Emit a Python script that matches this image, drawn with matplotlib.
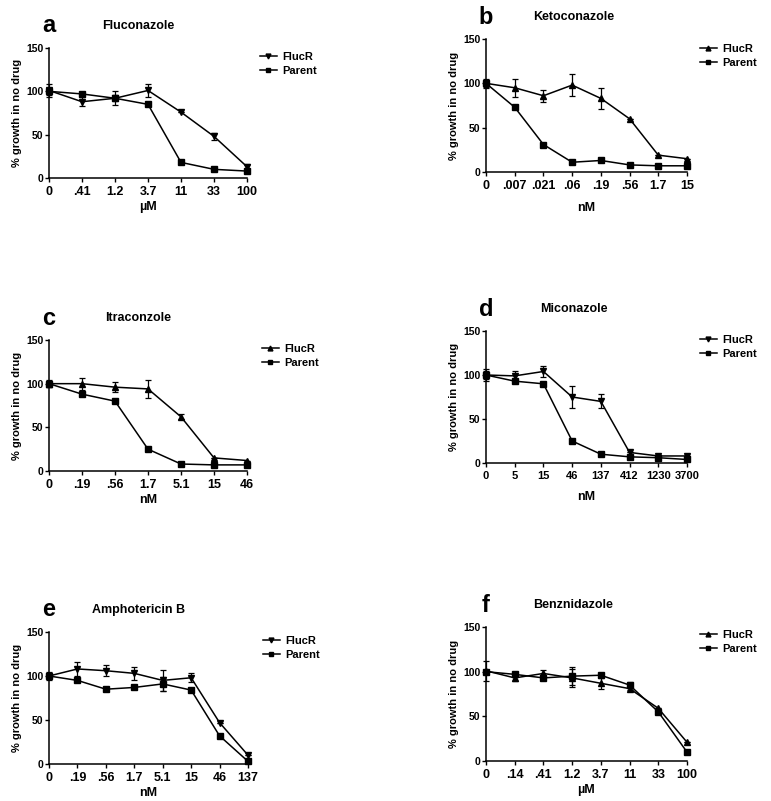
import matplotlib
matplotlib.use("Agg")
import matplotlib.pyplot as plt
from matplotlib.lines import Line2D
import numpy as np

plt.rcParams['font.family'] = ['Liberation Sans', 'DejaVu Sans']
plt.rcParams['font.weight'] = 'bold'

# ---- data ----
flu_ticks = ["0", ".41", "1.2", "3.7", "11", "33", "100"]
flu_flucr = [101, 88, 92, 101, 76, 48, 13]
flu_flucr_err = [7, 5, 8, 8, 0, 4, 3]
flu_parent = [100, 97, 92, 85, 18, 10, 8]
flu_parent_err = [4, 2, 3, 2, 0, 0, 0]

keto_ticks = ["0", ".007", ".021", ".06", ".19", ".56", "1.7", "15"]
keto_flucr = [100, 95, 86, 98, 83, 60, 19, 15]
keto_flucr_err = [5, 10, 7, 12, 12, 0, 0, 0]
keto_parent = [100, 73, 31, 11, 13, 8, 7, 7]
keto_parent_err = [4, 2, 0, 0, 0, 0, 0, 0]

itra_ticks = ["0", ".19", ".56", "1.7", "5.1", "15", "46"]
itra_flucr = [100, 100, 96, 94, 62, 15, 12]
itra_flucr_err = [3, 7, 6, 10, 3, 0, 0]
itra_parent = [100, 88, 80, 25, 8, 7, 7]
itra_parent_err = [4, 0, 0, 0, 0, 0, 0]

mico_ticks = ["0", "5", "15", "46", "137", "412", "1230", "3700"]
mico_flucr = [100, 99, 104, 75, 70, 12, 8, 8]
mico_flucr_err = [7, 5, 6, 13, 8, 0, 0, 0]
mico_parent = [100, 93, 90, 25, 10, 7, 6, 4]
mico_parent_err = [4, 0, 0, 0, 0, 0, 0, 0]

ampho_ticks = ["0", ".19", ".56", "1.7", "5.1", "15", "46", "137"]
ampho_flucr = [100, 108, 106, 103, 95, 98, 47, 10]
ampho_flucr_err = [2, 8, 6, 7, 12, 5, 0, 0]
ampho_parent = [100, 95, 85, 87, 91, 84, 32, 3]
ampho_parent_err = [4, 0, 0, 0, 8, 0, 0, 0]

benz_ticks = ["0", ".14", ".41", "1.2", "3.7", "11", "33", "100"]
benz_flucr = [101, 93, 98, 93, 87, 81, 59, 21]
benz_flucr_err = [11, 3, 4, 10, 6, 2, 0, 0]
benz_parent = [100, 97, 93, 95, 96, 85, 55, 10]
benz_parent_err = [2, 2, 2, 10, 0, 3, 0, 0]

W, H = 771, 801
fig = plt.figure(figsize=(W / 100, H / 100), dpi=100)


def px_axes(left, top, right, bottom):
    return fig.add_axes([left / W, 1 - bottom / H, (right - left) / W, (bottom - top) / H])


def panel(box, letter, title, title_x, ticks, flucr, flucr_err, parent, parent_err,
          flucr_marker, unit, legend_xy, xfs=9, xlpad=2):
    ax = px_axes(*box)
    x = np.arange(len(ticks))
    ax.errorbar(x, flucr, yerr=flucr_err, color='black', marker=flucr_marker,
                ms=5, lw=1.1, capsize=2.3, elinewidth=0.9, capthick=0.9,
                clip_on=False)
    ax.errorbar(x, parent, yerr=parent_err, color='black', marker='s',
                ms=4.5, lw=1.1, capsize=2.3, elinewidth=0.9, capthick=0.9,
                clip_on=False)
    ax.set_xlim(0, len(ticks) - 1)
    ax.set_ylim(0, 150)
    ax.set_yticks([0, 50, 100, 150])
    ax.set_xticks(x)
    ax.set_xticklabels(ticks, fontsize=xfs, fontweight='bold')
    ax.tick_params(axis='y', labelsize=7.5, length=3, width=1, pad=1)
    ax.tick_params(axis='x', length=3, width=1, pad=3)
    for t in ax.get_yticklabels():
        t.set_fontweight('bold')
    ax.spines['top'].set_visible(False)
    ax.spines['right'].set_visible(False)
    ax.spines['left'].set_linewidth(1.1)
    ax.spines['bottom'].set_linewidth(1.1)
    ax.set_ylabel('% growth in no drug', fontsize=8, fontweight='bold', labelpad=3)
    ax.set_xlabel(unit, fontsize=9, fontweight='bold', labelpad=xlpad)
    left, top = box[0], box[1]
    fig.text(left / W, 1 - (top - 22) / H, letter, fontsize=17, fontweight='bold',
             ha='center', va='center')
    fig.text(title_x / W, 1 - (top - 22) / H, title, fontsize=9, fontweight='bold',
             ha='left', va='center')
    h1 = Line2D([], [], color='black', marker=flucr_marker, ms=3.5, lw=1.1)
    h2 = Line2D([], [], color='black', marker='s', ms=3.2, lw=1.1)
    ax.legend(handles=[h1, h2], labels=['FlucR', 'Parent'], loc='center left',
              bbox_to_anchor=(legend_xy[0] / W, 1 - legend_xy[1] / H),
              bbox_transform=fig.transFigure, frameon=False, fontsize=8,
              handlelength=1.5, handletextpad=0.5, labelspacing=0.3,
              borderpad=0, borderaxespad=0)
    return ax


panel((49, 48, 247, 178), 'a', 'Fluconazole', 102, flu_ticks, flu_flucr, flu_flucr_err,
      flu_parent, flu_parent_err, 'v', 'µM', (260, 64))
panel((486, 39, 687, 172), 'b', 'Ketoconazole', 533, keto_ticks, keto_flucr, keto_flucr_err,
      keto_parent, keto_parent_err, '^', 'nM', (700, 56), xlpad=7)
panel((49, 340, 247, 471), 'c', 'Itraconzole', 105, itra_ticks, itra_flucr, itra_flucr_err,
      itra_parent, itra_parent_err, '^', 'nM', (262, 356))
panel((486, 331, 687, 463), 'd', 'Miconazole', 540, mico_ticks, mico_flucr, mico_flucr_err,
      mico_parent, mico_parent_err, 'v', 'nM', (700, 347), xfs=8, xlpad=7)
panel((49, 632, 248, 764), 'e', 'Amphotericin B', 92, ampho_ticks, ampho_flucr, ampho_flucr_err,
      ampho_parent, ampho_parent_err, 'v', 'nM', (263, 648))
panel((486, 627, 687, 761), 'f', 'Benznidazole', 533, benz_ticks, benz_flucr, benz_flucr_err,
      benz_parent, benz_parent_err, '^', 'µM', (700, 642))

fig.savefig('out.png', dpi=100, facecolor='white')
